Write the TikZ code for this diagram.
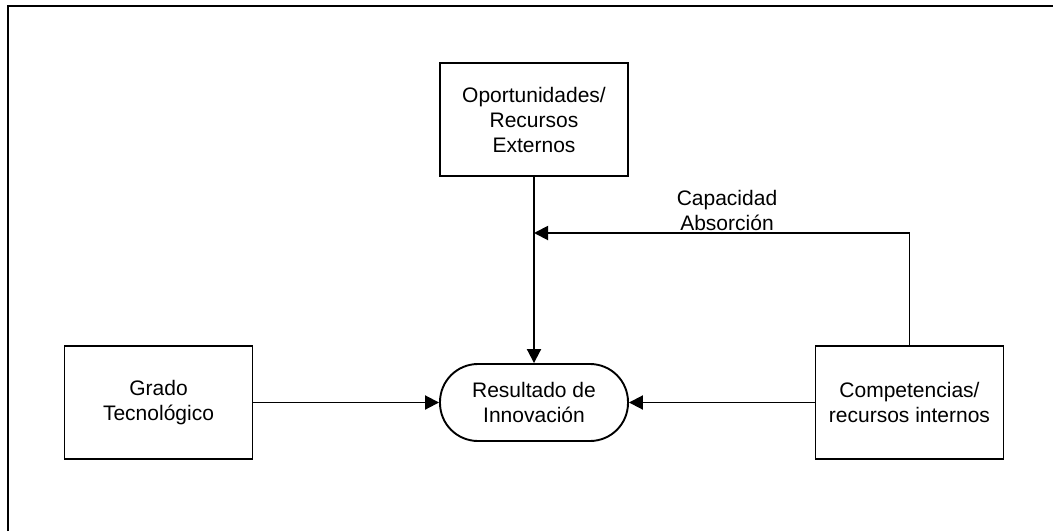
\documentclass[tikz,border=0pt]{standalone}
\usepackage{fontspec}
\setmainfont{Liberation Sans}
\usetikzlibrary{arrows.meta}
\begin{document}
\begin{tikzpicture}[x=1pt,y=-1pt,
  line width=1.9pt,
  every node/.style={font=\fontsize{21}{25}\selectfont, align=center, inner sep=0pt},
  box/.style={draw, rectangle, minimum width=188pt, minimum height=113pt},
  pill/.style={draw, rectangle, rounded corners=38pt, minimum width=188pt, minimum height=77pt},
  flow/.style={-{Triangle[length=14pt,width=14pt]}}]
  \useasboundingbox (0,0) rectangle (1053,531);
  % outer frame
  \draw[line width=2.4pt] (8,531) -- (8,6) -- (1053,6);

  \node[box] (opo) at (534,119.5) {Oportunidades/\\Recursos\\Externos};
  \node[box] (grado) at (158.5,402.5) {Grado\\Tecnológico};
  \node[box] (comp) at (909.5,402.5) {Competencias/\\recursos internos};
  \node[pill] (res) at (534,402.5) {Resultado de\\Innovación};

  \coordinate (join) at (534,233);
  \node (cap) at (727,210) {Capacidad\\Absorción};

  \draw[flow] (opo.south) -- (res.north);
  \draw[flow] (comp.north) |- (join);
  \draw[flow] (grado.east) -- (res.west);
  \draw[flow] (comp.west) -- (res.east);
\end{tikzpicture}
\end{document}
